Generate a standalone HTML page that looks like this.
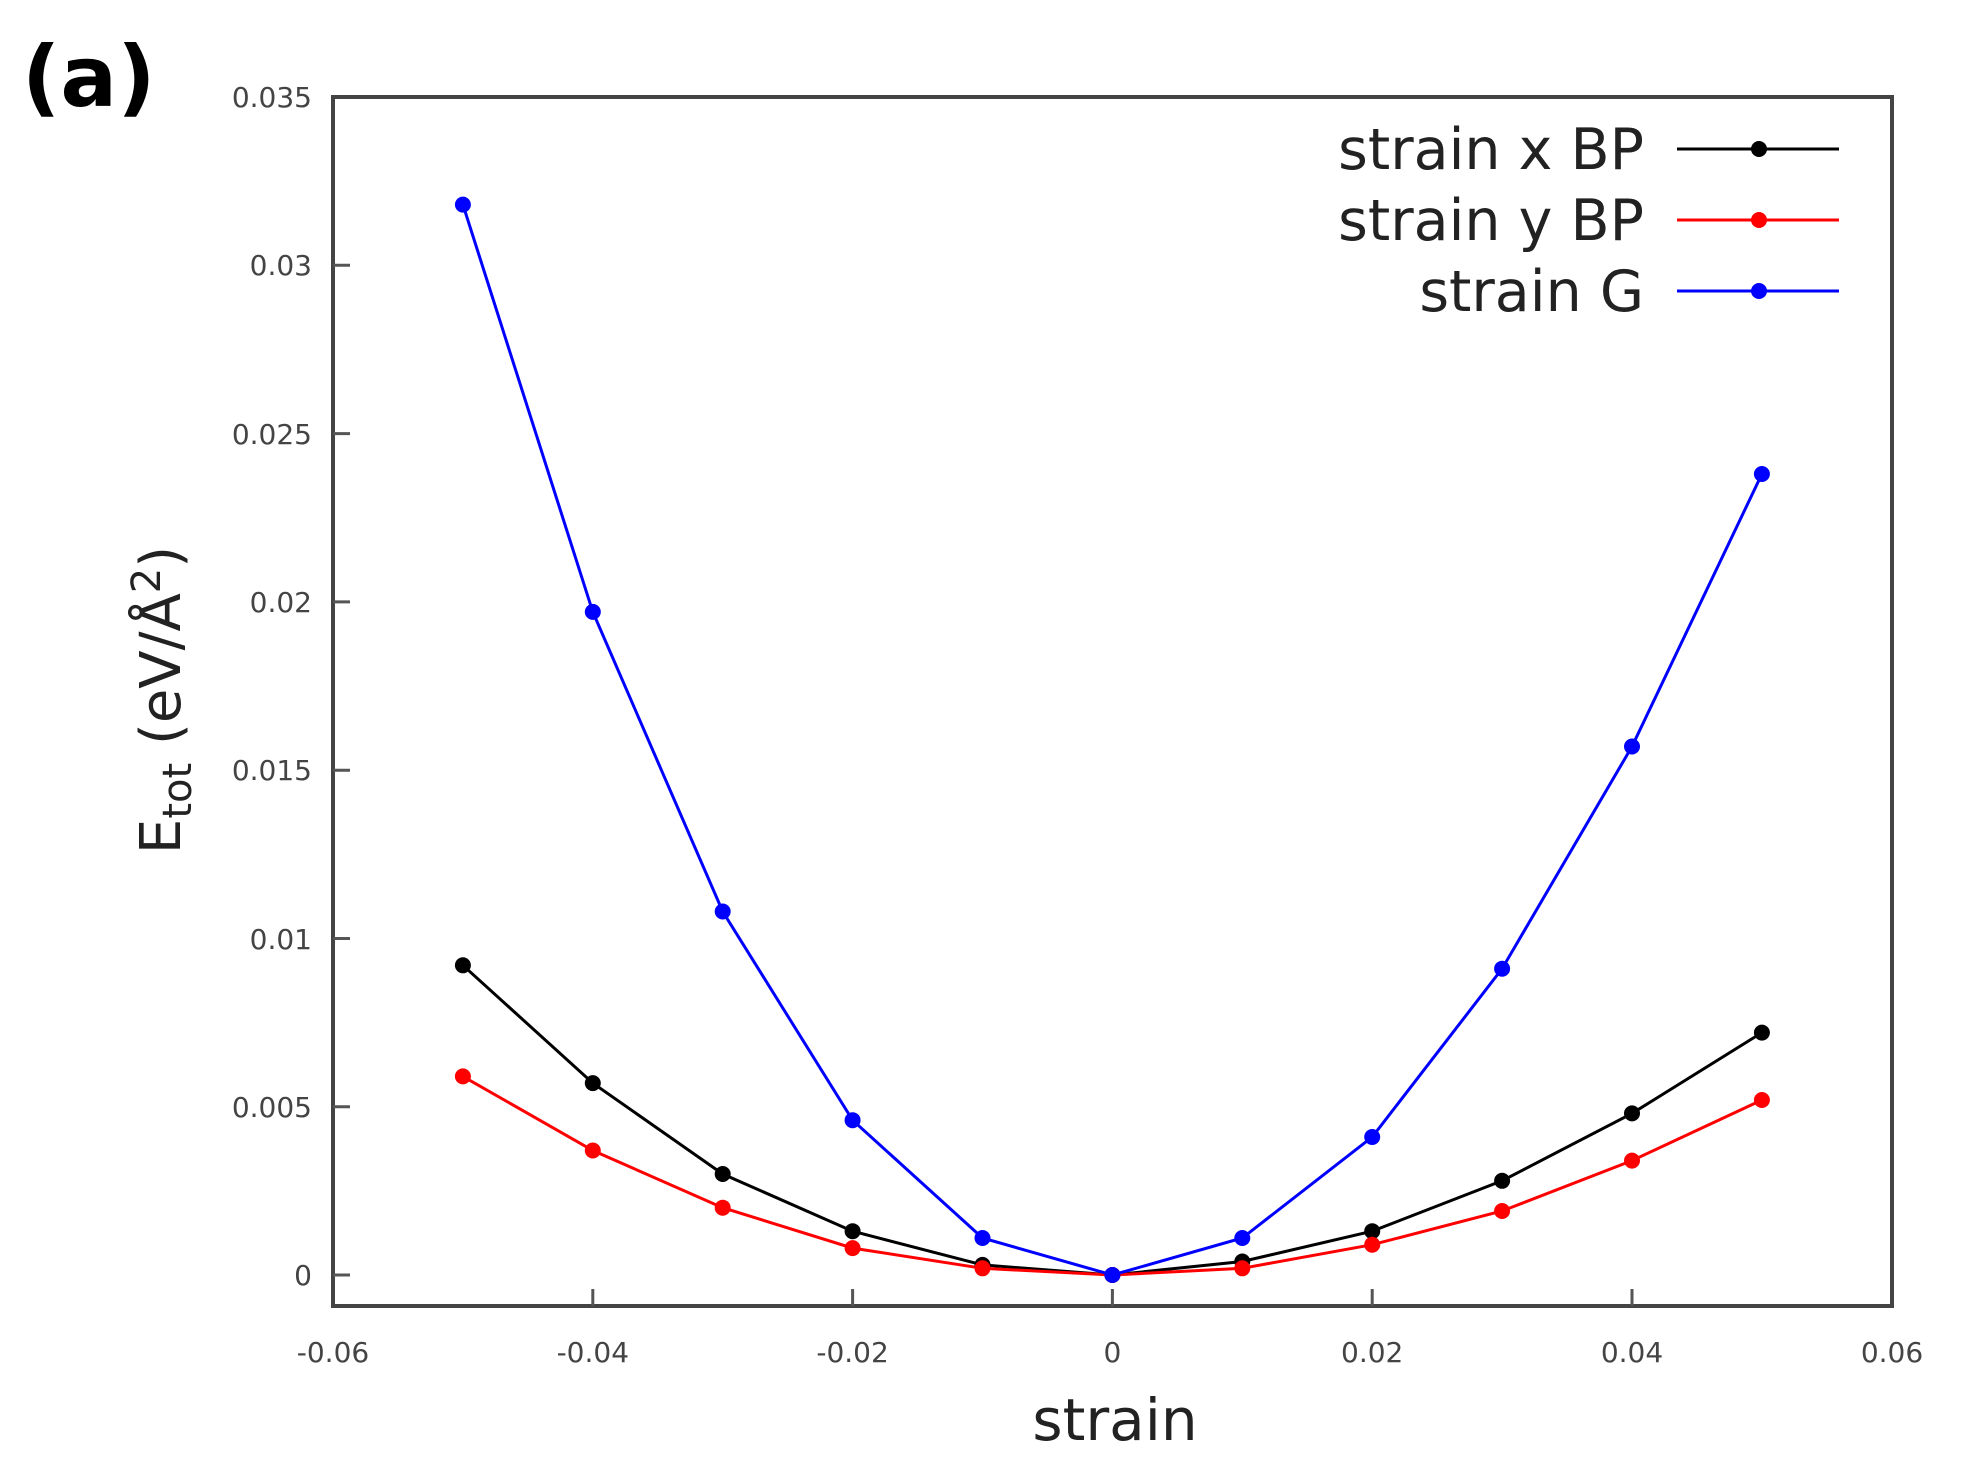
<!DOCTYPE html>
<html><head><style>html,body{margin:0;padding:0;background:#fff}svg{display:block}</style></head>
<body>
<svg width="1964" height="1462" viewBox="0 0 1964 1462" xmlns="http://www.w3.org/2000/svg" font-family="'DejaVu Sans','Liberation Sans',sans-serif">
<rect width="1964" height="1462" fill="#fff"/>
<text x="22" y="106" font-size="84" font-weight="bold" fill="#000">(a)</text>
<rect x="333" y="97" width="1559" height="1209" fill="none" stroke="#444" stroke-width="4"/>
<g stroke="#555" stroke-width="3">
<line x1="333" y1="265.3" x2="350" y2="265.3"/><line x1="333" y1="433.6" x2="350" y2="433.6"/><line x1="333" y1="601.9" x2="350" y2="601.9"/><line x1="333" y1="770.2" x2="350" y2="770.2"/><line x1="333" y1="938.5" x2="350" y2="938.5"/><line x1="333" y1="1106.8" x2="350" y2="1106.8"/><line x1="333" y1="1275" x2="350" y2="1275"/>
<line x1="592.8" y1="1306" x2="592.8" y2="1289"/><line x1="852.6" y1="1306" x2="852.6" y2="1289"/><line x1="1112.4" y1="1306" x2="1112.4" y2="1289"/><line x1="1372.2" y1="1306" x2="1372.2" y2="1289"/><line x1="1632" y1="1306" x2="1632" y2="1289"/>
</g>
<g font-size="28" fill="#444" text-anchor="end">
<text x="312" y="107">0.035</text><text x="312" y="275">0.03</text><text x="312" y="444">0.025</text><text x="312" y="612">0.02</text><text x="312" y="780">0.015</text><text x="312" y="949">0.01</text><text x="312" y="1117">0.005</text><text x="312" y="1285">0</text>
</g>
<g font-size="28" fill="#444" text-anchor="middle">
<text x="333" y="1362">-0.06</text><text x="592.8" y="1362">-0.04</text><text x="852.6" y="1362">-0.02</text><text x="1112.4" y="1362">0</text><text x="1372.2" y="1362">0.02</text><text x="1632" y="1362">0.04</text><text x="1892" y="1362">0.06</text>
</g>
<text x="1115" y="1440" font-size="58" fill="#222" text-anchor="middle">strain</text>
<text transform="translate(180,700) rotate(-90)" font-size="56" fill="#222" text-anchor="middle">E<tspan font-size="40" dy="11">tot</tspan><tspan dy="-11"> (eV/Å</tspan><tspan font-size="40" dy="-20">2</tspan><tspan dy="20">)</tspan></text>
<g fill="none" stroke-width="3">
<polyline stroke="#000" points="462.9,965.3 592.8,1083.1 722.7,1174 852.6,1231.2 982.5,1264.9 1112.4,1275 1242.3,1261.5 1372.2,1231.2 1502.1,1180.8 1632,1113.4 1761.9,1032.6"/>
<polyline stroke="#f00" points="462.9,1076.4 592.8,1150.5 722.7,1207.7 852.6,1248.1 982.5,1268.3 1112.4,1275 1242.3,1268.3 1372.2,1244.7 1502.1,1211 1632,1160.6 1761.9,1100"/>
<polyline stroke="#00f" points="462.9,204.6 592.8,611.9 722.7,911.5 852.6,1120.2 982.5,1238 1112.4,1275 1242.3,1238 1372.2,1137 1502.1,968.7 1632,746.5 1761.9,474"/>
</g>
<g fill="#000"><circle cx="462.9" cy="965.3" r="8"/><circle cx="592.8" cy="1083.1" r="8"/><circle cx="722.7" cy="1174" r="8"/><circle cx="852.6" cy="1231.2" r="8"/><circle cx="982.5" cy="1264.9" r="8"/><circle cx="1112.4" cy="1275" r="8"/><circle cx="1242.3" cy="1261.5" r="8"/><circle cx="1372.2" cy="1231.2" r="8"/><circle cx="1502.1" cy="1180.8" r="8"/><circle cx="1632" cy="1113.4" r="8"/><circle cx="1761.9" cy="1032.6" r="8"/></g>
<g fill="#f00"><circle cx="462.9" cy="1076.4" r="8"/><circle cx="592.8" cy="1150.5" r="8"/><circle cx="722.7" cy="1207.7" r="8"/><circle cx="852.6" cy="1248.1" r="8"/><circle cx="982.5" cy="1268.3" r="8"/><circle cx="1112.4" cy="1275" r="8"/><circle cx="1242.3" cy="1268.3" r="8"/><circle cx="1372.2" cy="1244.7" r="8"/><circle cx="1502.1" cy="1211" r="8"/><circle cx="1632" cy="1160.6" r="8"/><circle cx="1761.9" cy="1100" r="8"/></g>
<g fill="#00f"><circle cx="462.9" cy="204.6" r="8"/><circle cx="592.8" cy="611.9" r="8"/><circle cx="722.7" cy="911.5" r="8"/><circle cx="852.6" cy="1120.2" r="8"/><circle cx="982.5" cy="1238" r="8"/><circle cx="1112.4" cy="1275" r="8"/><circle cx="1242.3" cy="1238" r="8"/><circle cx="1372.2" cy="1137" r="8"/><circle cx="1502.1" cy="968.7" r="8"/><circle cx="1632" cy="746.5" r="8"/><circle cx="1761.9" cy="474" r="8"/></g>
<g font-size="57" fill="#222" text-anchor="end">
<text x="1644" y="169">strain x BP</text><text x="1644" y="240">strain y BP</text><text x="1644" y="311">strain G</text>
</g>
<g stroke-width="3"><line x1="1677" y1="149" x2="1839" y2="149" stroke="#000"/><line x1="1677" y1="220" x2="1839" y2="220" stroke="#f00"/><line x1="1677" y1="291" x2="1839" y2="291" stroke="#00f"/></g>
<circle cx="1759" cy="149" r="8" fill="#000"/><circle cx="1759" cy="220" r="8" fill="#f00"/><circle cx="1759" cy="291" r="8" fill="#00f"/>
</svg>
</body></html>
